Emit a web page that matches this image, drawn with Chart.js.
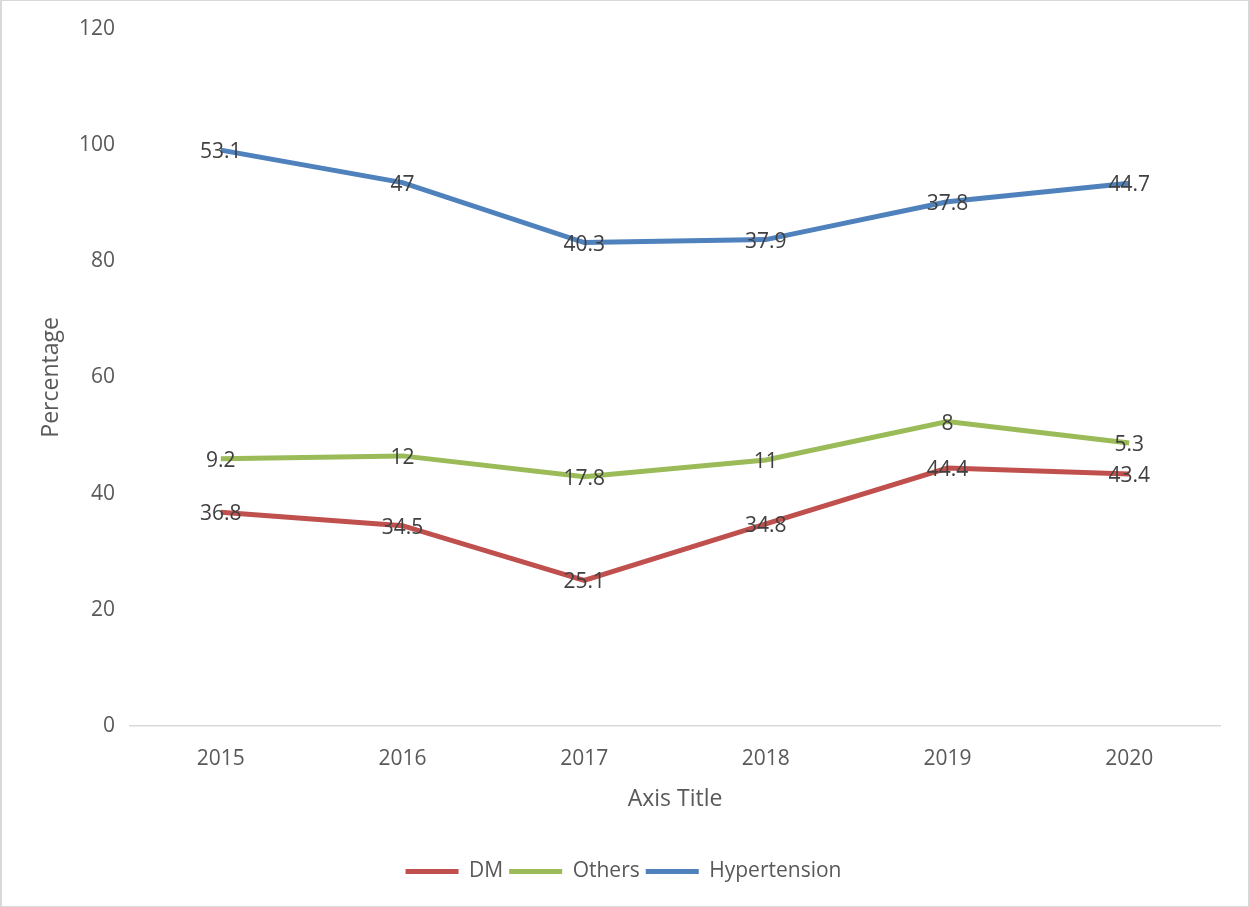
<!DOCTYPE html>
<html>
<head>
<meta charset="utf-8">
<script src="https://cdn.jsdelivr.net/npm/chart.js@4/dist/chart.umd.min.js"></script>
<style>
html,body{margin:0;padding:0;background:#fff;}
#wrap{position:absolute;left:0;top:0;width:1249px;height:907px;box-sizing:border-box;border:1px solid #d9d9d9;border-left:2px solid #d9d9d9;}
canvas{display:block;}
</style>
</head>
<body>
<div id="wrap"><canvas id="c" width="1246" height="905"></canvas></div>
<script>
const categories = ['2015','2016','2017','2018','2019','2020'];
const dmValues = [36.8, 34.5, 25.1, 34.8, 44.4, 43.4];
const othersValues = [9.2, 12, 17.8, 11, 8, 5.3];
const hypertensionValues = [53.1, 47, 40.3, 37.9, 37.8, 44.7];
const seriesNames = ['DM', 'Others', 'Hypertension'];
const yTicks = [0, 20, 40, 60, 80, 100, 120];

const FONT = "'Open Sans', 'DejaVu Sans', sans-serif";

const labelPlugin = {
  id: 'pointLabels',
  afterDatasetsDraw(chart) {
    const ctx = chart.ctx;
    ctx.save();
    ctx.font = "21px " + FONT;
    ctx.fillStyle = '#404040';
    ctx.textAlign = 'center';
    ctx.textBaseline = 'middle';
    chart.data.datasets.forEach((ds, i) => {
      const meta = chart.getDatasetMeta(i);
      meta.data.forEach((pt, j) => {
        ctx.fillText(String(ds.data[j]), pt.x, pt.y + 2);
      });
    });
    ctx.restore();
  }
};

new Chart(document.getElementById('c'), {
  type: 'line',
  data: {
    labels: categories,
    datasets: [
      {label: seriesNames[0], data: dmValues, borderColor: '#C0504D', backgroundColor: '#C0504D', borderWidth: 5, pointRadius: 0, tension: 0, fill: false},
      {label: seriesNames[1], data: othersValues, borderColor: '#9BBB59', backgroundColor: '#9BBB59', borderWidth: 5, pointRadius: 0, tension: 0, fill: false},
      {label: seriesNames[2], data: hypertensionValues, borderColor: '#4F81BD', backgroundColor: '#4F81BD', borderWidth: 5, pointRadius: 0, tension: 0, fill: false}
    ]
  },
  options: {
    responsive: false,
    animation: false,
    events: [],
    layout: {padding: {left: 25, right: 28, top: 27, bottom: 14}},
    plugins: {
      tooltip: {enabled: false},
      legend: {
        position: 'bottom',
        labels: {
          font: {family: FONT, size: 21},
          color: '#595959',
          boxWidth: 53,
          boxHeight: 5,
          padding: 6,
          generateLabels(chart) {
            return chart.data.datasets.map((ds, i) => ({
              text: ds.label, fillStyle: ds.borderColor, strokeStyle: ds.borderColor,
              lineWidth: 0, hidden: false, datasetIndex: i, fontColor: '#595959'
            }));
          }
        }
      }
    },
    scales: {
      x: {
        offset: true,
        grid: {display: false, drawTicks: false},
        border: {display: true, color: '#d9d9d9', width: 1.5},
        ticks: {font: {family: FONT, size: 21}, color: '#595959', padding: 20},
        title: {display: true, text: 'Axis Title', font: {family: FONT, size: 23}, color: '#595959', padding: {top: -6, bottom: 42}}
      },
      y: {
        stacked: true,
        min: 0, max: 120,
        afterBuildTicks(scale) { scale.ticks = yTicks.map(v => ({value: v})); },
        afterFit(scale) { scale.width = 103; },
        grid: {display: false, drawTicks: false},
        border: {display: false},
        ticks: {font: {family: FONT, size: 21}, color: '#595959', padding: 15},
        title: {display: true, text: 'Percentage', font: {family: FONT, size: 23}, color: '#595959', padding: {top: 11, bottom: 0}}
      }
    }
  },
  plugins: [labelPlugin]
});
</script>
</body>
</html>
